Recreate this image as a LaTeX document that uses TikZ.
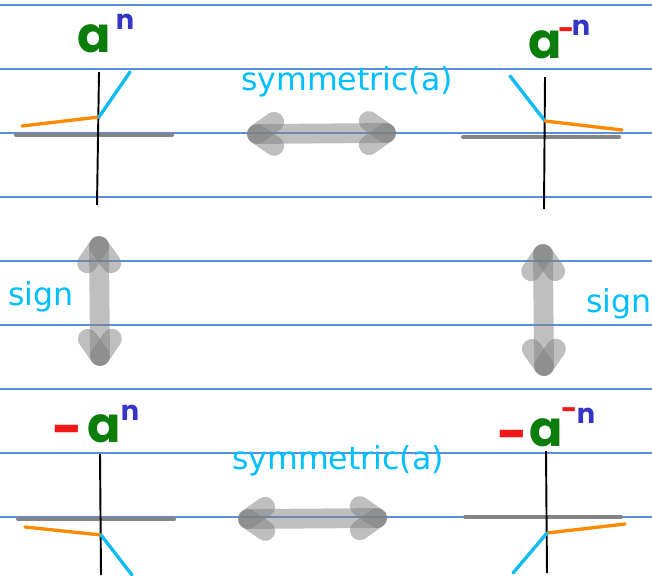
\documentclass[tikz,border=0pt]{standalone}
\usepackage{fontspec}
\setmainfont{DejaVu Sans}
\newfontfamily\handfont{Poppins}
\usepackage{xcolor}
\usepackage{tikz}
\usetikzlibrary{
  calc
}
\definecolor{ruleblue}{HTML}{5B8FDB}
\definecolor{notecyan}{HTML}{00BFFF}
\definecolor{basegreen}{HTML}{0A7D0A}
\definecolor{powerblue}{HTML}{3535C8}
\definecolor{minusred}{HTML}{F21818}
\definecolor{branchorange}{HTML}{FF8A00}
\definecolor{branchblue}{HTML}{0DBBF5}
\definecolor{axisgray}{HTML}{848484}
\tikzstyle{ruleline} = [draw=ruleblue, line width=0.6pt]
\tikzstyle{yaxis} = [draw=black, line width=1.1pt]
\tikzstyle{xaxis} = [draw=axisgray, line width=2.3pt, line cap=round]
\tikzstyle{negbranch} = [draw=branchorange, line width=1.9pt, line cap=round]
\tikzstyle{posbranch} = [draw=branchblue, line width=1.9pt, line cap=round]
\tikzstyle{basetext} = [
  text=basegreen, inner sep=0pt, anchor=base,
  font=\handfont\bfseries\fontsize{28}{30}\selectfont
]
\tikzstyle{powertext} = [
  text=powerblue, inner sep=0pt, anchor=base,
  font=\handfont\bfseries\fontsize{15.5}{17}\selectfont
]
\tikzstyle{bigminus} = [
  text=minusred, inner sep=0pt, anchor=base,
  font=\handfont\bfseries\fontsize{30}{32}\selectfont
]
\tikzstyle{smallminus} = [
  text=minusred, inner sep=0pt, anchor=base,
  font=\handfont\bfseries\fontsize{16}{18}\selectfont
]
\tikzstyle{opnote} = [
  text=notecyan, inner sep=0pt, anchor=base,
  font=\fontsize{18}{20}\selectfont
]
\tikzstyle{swapstroke} = [draw=gray, draw opacity=0.5, line width=11.3pt, line cap=round]
% double-headed marker stroke between two named coordinates
\newcommand{\swaparrow}[2]{%
  \draw[swapstroke] (#1) -- (#2);
  \draw[swapstroke] (#1) -- ($(#1)!0.42cm!35:(#2)$);
  \draw[swapstroke] (#1) -- ($(#1)!0.42cm!-35:(#2)$);
  \draw[swapstroke] (#2) -- ($(#2)!0.42cm!35:(#1)$);
  \draw[swapstroke] (#2) -- ($(#2)!0.42cm!-35:(#1)$);
}

\begin{document}
\begin{tikzpicture}[x=0.02cm, y=-0.02cm]
\useasboundingbox (0,0) rectangle (652,575);

% --- Ruled paper ---
\foreach \row in {5,69,...,517}
  \draw[ruleline] (0,\row) -- (652,\row);

% --- Graphs ---
% a^n
\coordinate (tl-o) at (99,117);
\draw[xaxis] (16,135) -- (172,135);
\draw[yaxis] (99,72) -- (97,205);
\draw[negbranch] (22,126) -- (tl-o);
\draw[posbranch] (tl-o) -- (130,72);

% a^-n
\coordinate (tr-o) at (545,121);
\draw[xaxis] (463,137) -- (619,137);
\draw[yaxis] (545,77) -- (544,209);
\draw[posbranch] (510,76) -- (tr-o);
\draw[negbranch] (tr-o) -- (622,130);

% -a^n
\coordinate (bl-o) at (101,535);
\draw[xaxis] (18,519) -- (174,519);
\draw[yaxis] (100,454) -- (101,575);
\draw[negbranch] (25,527) -- (bl-o);
\draw[posbranch] (bl-o) -- (132,575);

% -a^-n
\coordinate (br-o) at (547,533);
\draw[xaxis] (465,517) -- (621,517);
\draw[yaxis] (546,451) -- (547,573);
\draw[negbranch] (br-o) -- (625,524);
\draw[posbranch] (br-o) -- (513,573);

% --- Arrows ---
\coordinate (symtop-l) at (257,134);
\coordinate (symtop-r) at (386,133);
\coordinate (symbot-l) at (248,519);
\coordinate (symbot-r) at (377,518);
\coordinate (signl-t) at (99,246);
\coordinate (signl-b) at (100,356);
\coordinate (signr-t) at (543,254);
\coordinate (signr-b) at (544,366);
\swaparrow{symtop-l}{symtop-r}
\swaparrow{symbot-l}{symbot-r}
\swaparrow{signl-t}{signl-b}
\swaparrow{signr-t}{signr-b}

% --- Labels ---
\node[basetext] (tl-a) at (94,52) {a};
\node[powertext] (tl-n) at (125,29) {n};

\node[basetext] (tr-a) at (545,58) {a};
\node[smallminus] (tr-m) at (567,39) {-};
\node[powertext] (tr-n) at (581,35) {n};

\node[bigminus] (br-m) at (513,452) {-};
\node[basetext] (br-a) at (546,446) {a};
\node[smallminus] (br-m2) at (570,419) {-};
\node[powertext] (br-n) at (586,423) {n};

\node[bigminus] (bl-m) at (68,447) {-};
\node[basetext] (bl-a) at (104,442) {a};
\node[powertext] (bl-n) at (130,420) {n};

\node[opnote] (symtop) at (347,90) {symmetric(a)};
\node[opnote] (symbot) at (338,469) {symmetric(a)};
\node[opnote] (signl) at (41,305) {sign};
\node[opnote] (signr) at (619,312) {sign};

\end{tikzpicture}
\end{document}
